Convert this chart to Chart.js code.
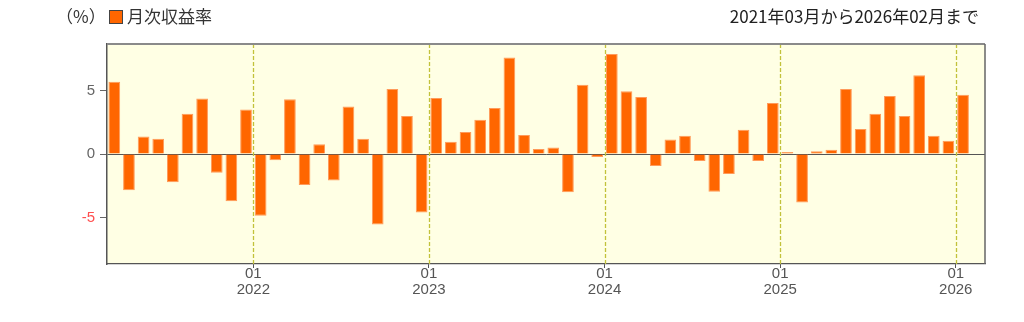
<!DOCTYPE html>
<html><head><meta charset="utf-8">
<script src="https://cdn.jsdelivr.net/npm/chart.js@4"></script>
<style>html,body{margin:0;padding:0;background:#fff;}canvas{display:block;}</style>
</head><body>
<canvas id="c" width="1024" height="322"></canvas>
<script>
const months = [
  '2021-03','2021-04','2021-05','2021-06','2021-07','2021-08','2021-09','2021-10','2021-11','2021-12',
  '2022-01','2022-02','2022-03','2022-04','2022-05','2022-06','2022-07','2022-08','2022-09','2022-10','2022-11','2022-12',
  '2023-01','2023-02','2023-03','2023-04','2023-05','2023-06','2023-07','2023-08','2023-09','2023-10','2023-11','2023-12',
  '2024-01','2024-02','2024-03','2024-04','2024-05','2024-06','2024-07','2024-08','2024-09','2024-10','2024-11','2024-12',
  '2025-01','2025-02','2025-03','2025-04','2025-05','2025-06','2025-07','2025-08','2025-09','2025-10','2025-11','2025-12',
  '2026-01','2026-02'
];
const monthlyReturn = [
  5.70,-2.86,1.39,1.21,-2.23,3.18,4.38,-1.47,-3.73,3.52,
  -4.88,-0.50,4.33,-2.44,0.76,-2.10,3.75,1.21,-5.56,5.12,2.99,-4.62,
  4.41,0.97,1.73,2.70,3.62,7.61,1.50,0.39,0.52,-3.02,5.46,-0.24,
  7.90,4.96,4.49,-0.94,1.15,1.44,-0.55,-2.98,-1.57,1.92,-0.55,4.02,
  0.16,-3.83,0.21,0.34,5.12,1.97,3.18,4.57,2.99,6.22,1.44,1.05,
  4.67,null
];
const yTicks = [-5, 0, 5];
const yLimit = 8.68;
const seriesLabel = '月次収益率';
const unitLabel = '（%）';
const periodTitle = '2021年03月から2026年02月まで';

const janIdx = months.map((m,i)=> m.endsWith('-01') ? i : -1).filter(i=>i>=0);
const points = monthlyReturn.map((v,i)=>({x:i+0.5, y:v}));

const decor = {
  id:'decor',
  beforeDraw(chart){
    const {ctx, chartArea:a} = chart;
    ctx.save();
    ctx.fillStyle = '#ffffe4';
    ctx.fillRect(a.left, a.top, a.right-a.left, a.bottom-a.top);
    ctx.restore();
  },
  beforeDatasetsDraw(chart){
    const {ctx, chartArea:a, scales:{x}} = chart;
    ctx.save();
    ctx.strokeStyle = '#c2c23a';
    ctx.lineWidth = 1.3;
    ctx.setLineDash([4,2]);
    janIdx.forEach(i=>{
      const px = Math.round(x.getPixelForValue(i)) + 0.5;
      ctx.beginPath(); ctx.moveTo(px, a.top); ctx.lineTo(px, a.bottom); ctx.stroke();
    });
    ctx.restore();
  },
  afterDraw(chart){
    const {ctx, chartArea:a} = chart;
    ctx.save();
    ctx.strokeStyle = '#8a8a8a';
    ctx.lineWidth = 2;
    ctx.beginPath(); ctx.moveTo(a.left, a.top); ctx.lineTo(a.right, a.top); ctx.stroke();
    ctx.lineWidth = 1.5;
    ctx.strokeStyle = '#666';
    ctx.beginPath(); ctx.moveTo(a.right, a.top); ctx.lineTo(a.right, a.bottom); ctx.stroke();
    // legend
    ctx.textBaseline = 'middle';
    ctx.fillStyle = '#333';
    ctx.font = '17px "Noto Sans CJK JP"';
    ctx.textAlign = 'left';
    ctx.fillText(unitLabel, 56, 17);
    ctx.fillStyle = '#ff6600';
    ctx.fillRect(109, 10, 14, 14);
    ctx.strokeStyle = '#444';
    ctx.lineWidth = 1;
    ctx.strokeRect(109.5, 10.5, 13, 13);
    ctx.fillStyle = '#333';
    ctx.fillText(seriesLabel, 127, 17);
    // title
    ctx.textAlign = 'right';
    ctx.fillStyle = '#222';
    ctx.font = '17px "Noto Sans CJK JP"';
    ctx.fillText(periodTitle, 979, 17);
    ctx.restore();
  }
};

new Chart(document.getElementById('c'), {
  type:'bar',
  data:{ datasets:[{
    label: seriesLabel,
    data: points,
    backgroundColor:'#ff6600',
    borderColor:'#ff9a5a',
    borderWidth:1,
    barPercentage:0.8,
    categoryPercentage:1.0
  }]},
  options:{
    responsive:false,
    animation:false,
    layout:{padding:{top:44,right:39,left:0,bottom:0}},
    plugins:{legend:{display:false}, tooltip:{enabled:false}},
    scales:{
      x:{
        type:'linear', min:0, max:months.length, offset:false,
        afterBuildTicks(s){ s.ticks = janIdx.map(v=>({value:v})); },
        afterFit(s){ s.height = 58; },
        grid:{offset:false, drawOnChartArea:false, drawTicks:true, tickLength:4, color:'#555', tickColor:'#555'},
        border:{display:true, color:'#555', width:1.2},
        ticks:{
          autoSkip:false, maxRotation:0, padding:-2,
          color:'#555',
          font:{family:'"Liberation Sans", sans-serif', size:15, lineHeight:1.07},
          callback(v){ const m = months[v]; return m ? [m.slice(5), m.slice(0,4)] : ''; }
        }
      },
      y:{
        min:-yLimit, max:yLimit,
        afterBuildTicks(s){ s.ticks = yTicks.map(v=>({value:v})); },
        afterFit(s){ s.width = 107; },
        grid:{
          color:(c)=> c.tick && c.tick.value===0 ? '#555' : 'rgba(0,0,0,0)',
          tickColor:'#666', tickLength:7, lineWidth:1
        },
        border:{display:true, color:'#555', width:1.5},
        ticks:{
          padding:5,
          color:(c)=> c.tick && c.tick.value<0 ? '#ff5050' : '#666',
          font:{family:'"Liberation Sans", sans-serif', size:15},
          callback(v){ return String(v); }
        }
      }
    }
  },
  plugins:[decor]
});
</script>
</body></html>
